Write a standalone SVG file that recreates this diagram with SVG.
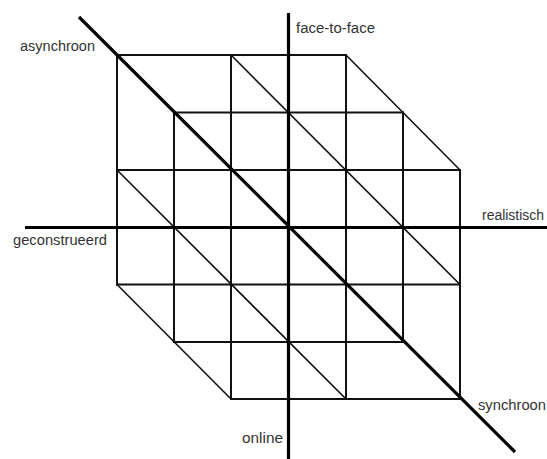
<svg xmlns="http://www.w3.org/2000/svg" width="547" height="459" viewBox="0 0 547 459">
<style>
.g{stroke:#111;stroke-width:2;fill:none;stroke-linecap:square}
.d{stroke:#111;stroke-width:1.6;fill:none}
.ax{stroke:#000;stroke-width:3.2;fill:none}
text{font-family:"Liberation Sans",Arial,sans-serif;font-size:14px;fill:#333}
</style>
<rect width="547" height="459" fill="#fff"/>
<g id="grid">
<path class="g" d="M117,55H346 M174,112.5H403 M117,170H460 M117,284.5H460 M174,342H403 M231,399H460"/>
<path class="g" d="M117,55V284.5 M174,112.5V342 M231,55V399 M346,55V399 M403,112.5V342 M460,170V399"/>
<path class="d" d="M346,55L460,170 M117,284.5L231,399 M231,55L460,284.5 M117,170L346,399"/>
</g>
<g id="axes">
<path class="ax" d="M288.5,13V459 M25,227.5H547 M79,17L515,452"/>
</g>
<g id="labels">
<text x="20" y="50.5" textLength="75" lengthAdjust="spacingAndGlyphs">asynchroon</text>
<text x="296" y="33" textLength="79" lengthAdjust="spacingAndGlyphs">face-to-face</text>
<text x="482" y="220" textLength="62" lengthAdjust="spacingAndGlyphs">realistisch</text>
<text x="13" y="244.5" textLength="94" lengthAdjust="spacingAndGlyphs">geconstrueerd</text>
<text x="242" y="443" textLength="41" lengthAdjust="spacingAndGlyphs">online</text>
<text x="478" y="410" textLength="68" lengthAdjust="spacingAndGlyphs">synchroon</text>
</g>
</svg>
